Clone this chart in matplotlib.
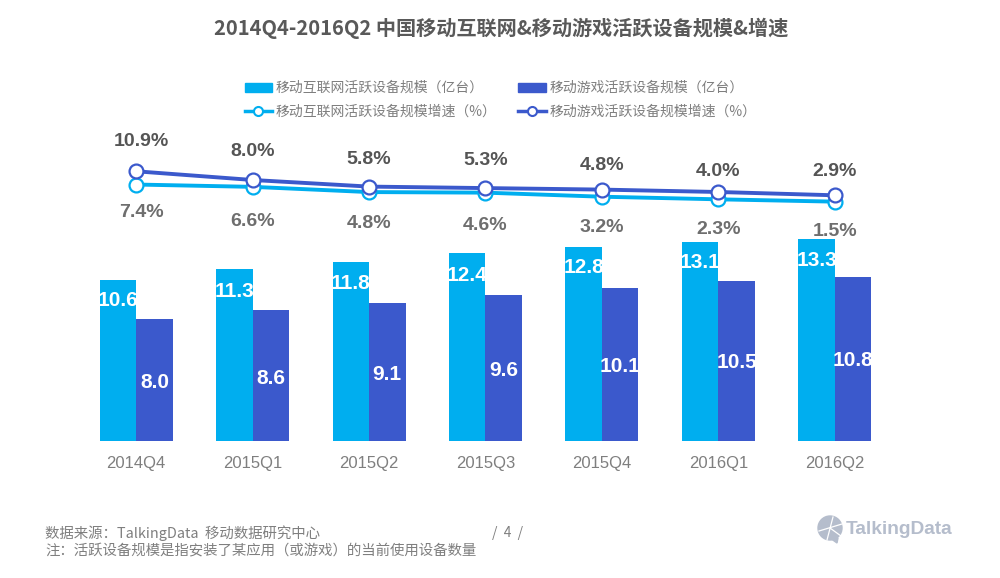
import matplotlib
matplotlib.use("Agg")
import matplotlib.pyplot as plt
import numpy as np
from matplotlib.lines import Line2D
from matplotlib.patches import Circle, Patch, Polygon
from matplotlib.transforms import IdentityTransform, blended_transform_factory

plt.rcParams["font.family"] = ["Noto Sans CJK SC", "DejaVu Sans"]

QUARTERS = ["2014Q4", "2015Q1", "2015Q2", "2015Q3", "2015Q4", "2016Q1", "2016Q2"]
INTERNET_DEVICES = [10.6, 11.3, 11.8, 12.4, 12.8, 13.1, 13.3]
GAME_DEVICES = [8.0, 8.6, 9.1, 9.6, 10.1, 10.5, 10.8]
INTERNET_GROWTH = [7.4, 6.6, 4.8, 4.6, 3.2, 2.3, 1.5]
GAME_GROWTH = [10.9, 8.0, 5.8, 5.3, 4.8, 4.0, 2.9]

# label heights in image pixels
INTERNET_BAR_LABEL_Y = [300, 291, 283, 275, 267, 263, 260]
GAME_BAR_LABEL_Y = [383, 378, 374, 370, 367, 363, 361]
INTERNET_LABEL_Y = [212, 221, 224, 226, 227, 229, 231]
GAME_LABEL_Y = [142, 152, 160, 161, 165, 171, 171]

LIGHT = "#00AEEF"
DARK = "#3B59CC"
GREY = "#7F7F7F"
SANS = ["Liberation Sans"]
W, H = 1000, 578


def fx(x):
    return x / W


def fy(y):
    return 1 - y / H


fig = plt.figure(figsize=(10, 5.78), dpi=100)
fig.patch.set_facecolor("white")

# bars: baseline at y=441, top at y=125
ax = fig.add_axes([fx(78), fy(441), 815 / W, 316 / H])
x = np.arange(len(QUARTERS))
width = 0.313
ax.bar(x - width / 2, INTERNET_DEVICES, width, color=LIGHT)
ax.bar(x + width / 2, GAME_DEVICES, width, color=DARK)
ax.set_xlim(-0.5, 6.5)
ax.set_ylim(0, 20.8)
ax.set_xticks(x, QUARTERS, fontsize=12, color=GREY, family=SANS)
ax.set_yticks([])
ax.tick_params(axis="x", length=0, pad=11)
for side in ax.spines:
    ax.spines[side].set_visible(False)

bar_trans = blended_transform_factory(ax.transData, fig.transFigure)
for i in range(len(QUARTERS)):
    ax.text(i - width / 2, fy(INTERNET_BAR_LABEL_Y[i]), f"{INTERNET_DEVICES[i]:.1f}", color="white",
            ha="center", va="center", fontsize=15, fontweight="bold", family=SANS, transform=bar_trans)
    ax.text(i + width / 2, fy(GAME_BAR_LABEL_Y[i]), f"{GAME_DEVICES[i]:.1f}", color="white",
            ha="center", va="center", fontsize=15, fontweight="bold", family=SANS, transform=bar_trans)

# growth lines, each on its own scale like the slide
ax_light = fig.add_axes([fx(78), fy(230), 815 / W, 105 / H])
ax_dark = fig.add_axes([fx(78), fy(230), 815 / W, 105 / H])
ax_light.set_ylim(-8.28, 27.93)
ax_dark.set_ylim(-8.67, 26.33)
marker = dict(marker="o", ms=10, mfc="white", mew=1.6, lw=2.8, clip_on=False)
ax_light.plot(x, INTERNET_GROWTH, color=LIGHT, **marker)
ax_dark.plot(x, GAME_GROWTH, color=DARK, **marker)
for a in [ax_light, ax_dark]:
    a.set_xlim(-0.5, 6.5)
    a.axis("off")

line_trans = blended_transform_factory(ax_dark.transData, fig.transFigure)
for i in range(len(QUARTERS)):
    shift = 0.045 if i == 0 else 0
    ax_dark.text(i + shift, fy(INTERNET_LABEL_Y[i]), f"{INTERNET_GROWTH[i]:.1f}%", color="#6E6E6E",
                 ha="center", va="center", fontsize=14, fontweight="bold", family=SANS, transform=line_trans)
    ax_dark.text(i + shift, fy(GAME_LABEL_Y[i]), f"{GAME_GROWTH[i]:.1f}%", color="#555555",
                 ha="center", va="center", fontsize=14, fontweight="bold", family=SANS, transform=line_trans)

# title
fig.text(fx(501), fy(28), "2014Q4-2016Q2 中国移动互联网&移动游戏活跃设备规模&增速",
         ha="center", va="center", fontsize=14.5, fontweight="bold", color="#595959")

# legend
handles = [
    Patch(color=LIGHT),
    Line2D([], [], color=LIGHT, marker="o", ms=6.5, mfc="white", mew=1.5, lw=2.5),
    Patch(color=DARK),
    Line2D([], [], color=DARK, marker="o", ms=6.5, mfc="white", mew=1.5, lw=2.5),
]
labels = [
    "移动互联网活跃设备规模（亿台）",
    "移动互联网活跃设备规模增速（%）",
    "移动游戏活跃设备规模（亿台）",
    "移动游戏活跃设备规模增速（%）",
]
fig.legend(handles, labels, ncols=2, loc="center left", bbox_to_anchor=(fx(239), fy(100)),
           frameon=False, fontsize=10, labelcolor=GREY, handlelength=2.0, handleheight=0.6,
           handletextpad=0.25, columnspacing=1.53, labelspacing=0.7, borderaxespad=0)

# footer
fig.text(fx(45), fy(533), "数据来源：TalkingData  移动数据研究中心", va="center", fontsize=10.4, color=GREY)
fig.text(fx(45), fy(551), "注：活跃设备规模是指安装了某应用（或游戏）的当前使用设备数量", va="center", fontsize=10.4, color=GREY)
fig.text(fx(508), fy(533), "/  4  /", ha="center", va="center", fontsize=10, color=GREY)

# logo, drawn in image pixels
LOGO = "#B5BDCC"
px = IdentityTransform()
fig.add_artist(Circle((830, H - 528), 12, transform=px, color=LOGO))
fig.add_artist(Polygon([(830, H - 538), (838, H - 538), (837, H - 543)], transform=px, color=LOGO))
for x0, y0, x1, y1 in [(819, 531, 842, 524), (827, 540, 833, 517), (830, 528, 841, 536)]:
    fig.add_artist(Line2D([x0, x1], [H - y0, H - y1], transform=px, color="white", lw=0.9))
fig.text(fx(846), fy(530), "TalkingData", va="center", ha="left", fontsize=13.8, fontweight="bold",
         color=LOGO, family=SANS)

fig.savefig("out.png", dpi=100)
